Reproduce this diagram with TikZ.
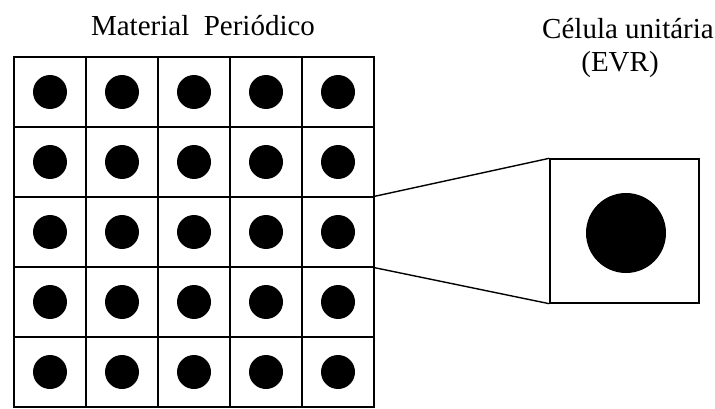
\documentclass[tikz,border=0pt]{standalone}
\usepackage{fontspec}
\setmainfont{Liberation Serif}
\begin{document}
\begin{tikzpicture}[x=1pt,y=-1pt,
  cell/.style={draw,line width=1.4pt,rectangle,minimum width=72pt,minimum height=70pt,inner sep=0pt},
  dot/.style={circle,fill=black,minimum size=34pt,inner sep=0pt},
  bigdot/.style={circle,fill=black,minimum size=80pt,inner sep=0pt},
  ubox/.style={draw,line width=1.4pt,rectangle,minimum width=149pt,minimum height=144pt,inner sep=0pt},
  lbl/.style={font=\fontsize{29}{32}\selectfont,anchor=base,inner sep=0pt}]
\useasboundingbox (0,0) rectangle (715,409);
\foreach \r in {1,...,5}{
  \foreach \c in {1,...,5}{
    \node[cell] (c-\r-\c) at ({14+72*(\c-0.5)},{57+70*(\r-0.5)}) {};
    \node[dot] (d-\r-\c) at (c-\r-\c.center) {};
  }
}
\node[ubox] (u) at (624.5,231) {};
\node[bigdot] (ud) at (626,233) {};
\draw[line width=1.4pt] (c-3-5.north east) -- (u.north west);
\draw[line width=1.4pt] (c-3-5.south east) -- (u.south west);
\node[lbl] (t1) at (203,36) {Material\ \ Periódico};
\node[lbl] (t2) at (628,39) {Célula unitária};
\node[lbl] (t3) at (620,72) {(EVR)};
\end{tikzpicture}
\end{document}
